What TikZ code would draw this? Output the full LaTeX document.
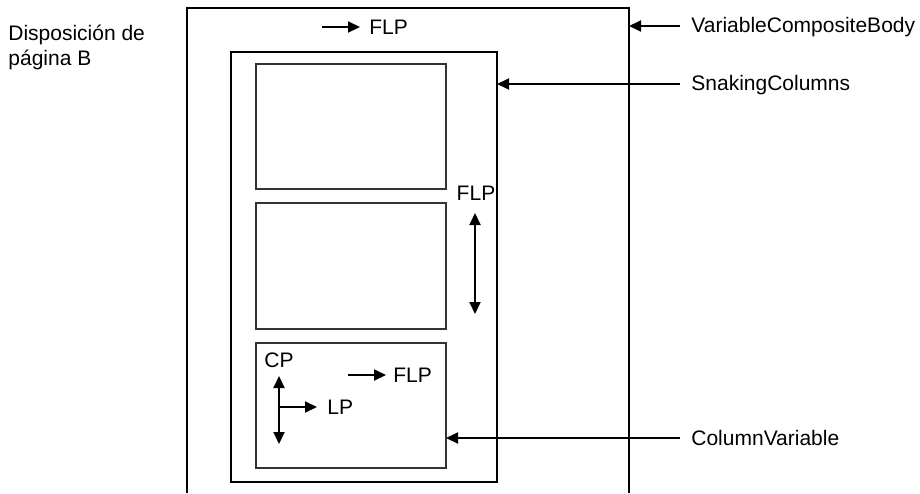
\documentclass[tikz,border=0pt]{standalone}
\usepackage{fontspec}
\setmainfont{Liberation Sans}
\usetikzlibrary{arrows.meta}
\begin{document}
\begin{tikzpicture}[x=0.5pt, y=-0.5pt, line join=miter,
    lbl/.style={inner sep=0pt, anchor=base west, font=\fontsize{10.5pt}{12.5pt}\selectfont},
    frame/.style={line width=0.75pt},
    colbox/.style={line width=0.6pt, black!80},
    arr/.style={line width=1pt, -{Triangle[length=6pt,width=5.5pt]}},
    darr/.style={line width=1pt, {Triangle[length=6pt,width=5.5pt]}-{Triangle[length=6pt,width=5.5pt]}}]
  \useasboundingbox (0,0) rectangle (920,493);

  % Rahmen
  \coordinate (VL) at (187,493);
  \coordinate (VT) at (187,8);
  \coordinate (VR) at (629,8);
  \coordinate (VB) at (629,493);
  \draw[frame] (VL)--(VT)--(VR)--(VB);

  % SnakingColumns
  \coordinate (S1) at (231,52);
  \coordinate (S2) at (497,482);
  \draw[frame] (S1) rectangle (S2);

  % Spalten
  \coordinate (A1) at (256,64);  \coordinate (A2) at (446,189);
  \coordinate (B1) at (256,203); \coordinate (B2) at (446,329);
  \coordinate (C1) at (256,343); \coordinate (C2) at (446,468);
  \draw[colbox] (A1) rectangle (A2);
  \draw[colbox] (B1) rectangle (B2);
  \draw[colbox] (C1) rectangle (C2);

  % Titel
  \node[lbl, align=left, anchor=north west] (title) at (8,25) {Disposición de\\página B};

  % FLP oben
  \coordinate (f0) at (322,27);
  \node[lbl] (flp) at (369,34) {FLP};
  \draw[arr] (f0) -- ([xshift=-4.5pt]flp.west |- f0);

  % FLP senkrecht
  \node[lbl, anchor=base] (flpv) at (476,200) {FLP};
  \coordinate (v1) at (475,213);
  \coordinate (v2) at (475,314);
  \draw[darr] (v1) -- (v2);

  % CP / LP / FLP in der Spalte
  \node[lbl] (cp) at (264,367) {CP};
  \coordinate (c1) at (279,376);
  \coordinate (c2) at (279,444);
  \draw[darr] (c1) -- (c2);
  \coordinate (l0) at (279,407);
  \node[lbl] (lp) at (327,414) {LP};
  \draw[arr] (l0) -- ([xshift=-5pt]lp.west |- l0);
  \coordinate (g0) at (348,375);
  \node[lbl] (flpc) at (393,382) {FLP};
  \draw[arr] (g0) -- ([xshift=-3.5pt]flpc.west |- g0);

  % Beschriftungen rechts
  \node[lbl] (vcb) at (691,32) {VariableCompositeBody};
  \node[lbl] (snk) at (691,90) {SnakingColumns};
  \node[lbl] (cv)  at (691,445) {ColumnVariable};
  \coordinate (p1) at (629,26);
  \coordinate (p2) at (497,84);
  \coordinate (p3) at (446,438);
  \draw[arr] ([xshift=-5.5pt]vcb.west |- p1) -- (p1);
  \draw[arr] ([xshift=-5.5pt]snk.west |- p2) -- (p2);
  \draw[arr] ([xshift=-5.5pt]cv.west |- p3) -- (p3);
\end{tikzpicture}
\end{document}
